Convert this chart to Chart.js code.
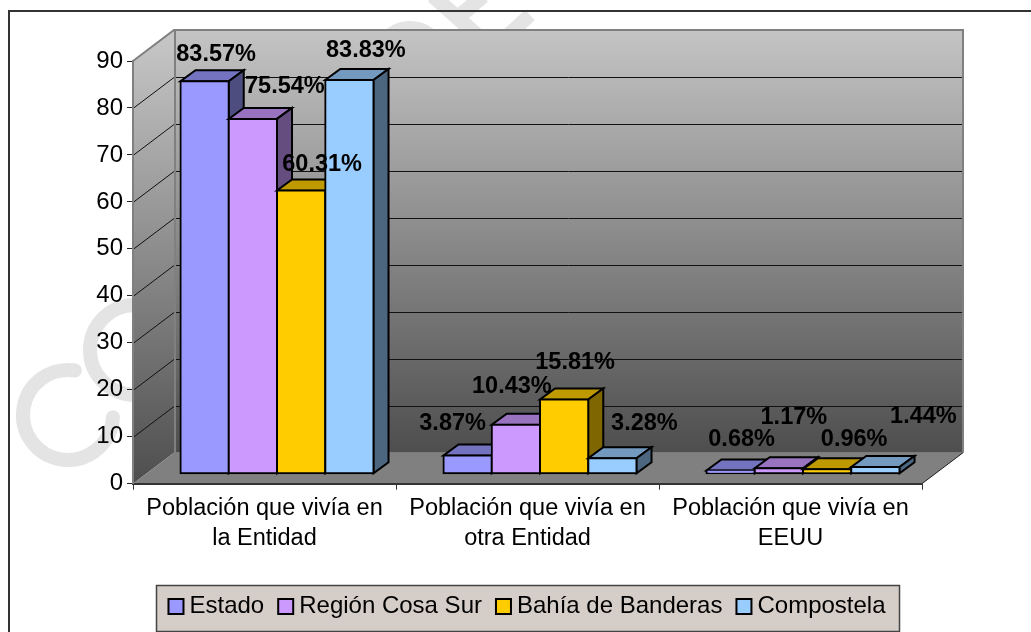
<!DOCTYPE html>
<html>
<head>
<meta charset="utf-8">
<style>html,body{margin:0;padding:0;background:#fff}canvas{display:block}</style>
<script src="https://cdn.jsdelivr.net/npm/chart.js@4"></script>
</head>
<body>
<div style="width:1031px;height:632px"><canvas id="c" width="1031" height="632"></canvas></div>
<script>
const categories = [['Población que vivía en','la Entidad'],['Población que vivía en','otra Entidad'],['Población que vivía en','EEUU']];
const estado = [83.57, 3.87, 0.68];
const regionCosaSur = [75.54, 10.43, 1.17];
const bahiaDeBanderas = [60.31, 15.81, 0.96];
const compostela = [83.83, 3.28, 1.44];
const seriesNames = ['Estado','Región Cosa Sur','Bahía de Banderas','Compostela'];
const seriesColors = ['#9999FF','#CC99FF','#FFCC00','#99CCFF'];
const topColors = ['#7373BF','#9973BF','#BF9900','#7399BF'];
const sideColors = ['#4D4D80','#664D80','#806600','#4D6680'];
// label offsets from each bar's top-centre: [series][category] = [dx, dy]
const labelOffsets = [
  [[11.5,-27],[-15,-33],[11,-31]],
  [[32,-33],[-4,-39],[15,-51]],
  [[21,-26],[11,-37],[27,-30]],
  [[16.5,-30],[32,-35],[48,-51]]
];
const FONT = '"Liberation Sans", Arial, sans-serif';
const FS = 23.5;
const WALL = {dx:41, dy:31}, PLANE = {dx:12.5, dy:10}, BAR = {dx:15, dy:11};

function poly(ctx, pts, fill, stroke, lw){
  ctx.beginPath();
  pts.forEach((p,i)=> i?ctx.lineTo(p[0],p[1]):ctx.moveTo(p[0],p[1]));
  ctx.closePath();
  if(fill){ctx.fillStyle=fill;ctx.fill();}
  if(stroke){ctx.strokeStyle=stroke;ctx.lineWidth=lw||1;ctx.stroke();}
}
function band(ctx,pts,w,fill){ // watermark stroke
  ctx.save();ctx.strokeStyle=fill;ctx.lineWidth=w;ctx.lineCap='butt';ctx.beginPath();
  pts.forEach((p,i)=> i?ctx.lineTo(p[0],p[1]):ctx.moveTo(p[0],p[1]));ctx.stroke();ctx.restore();
}
const scene = {
  id:'scene',
  afterLayout(chart){
    const l = chart.legend, w = l.right-l.left, h = l.bottom-l.top;
    const cx = 527, top = 580;
    l.left = cx-w/2; l.right = cx+w/2; l.top = top; l.bottom = top+h;
  },
  beforeDraw(chart){
    const ctx = chart.ctx, W = chart.width, H = chart.height;
    const xs = chart.scales.x, ys = chart.scales.y;
    const L = xs.left, R = xs.right, T = ys.top, B = ys.bottom;
    ctx.save();
    ctx.fillStyle='#fff';ctx.fillRect(0,0,W,H);
    // watermark
    const wm='#e4e4e4';
    ctx.save();ctx.strokeStyle=wm;ctx.lineCap='round';ctx.lineWidth=14;
    ctx.beginPath();ctx.arc(68,415,45,-1.42,0.05,true);ctx.stroke();
    ctx.lineCap='butt';
    ctx.beginPath();ctx.arc(135,350,45,Math.PI*0.5,Math.PI*1.5);ctx.stroke();
    ctx.lineWidth=12;ctx.beginPath();ctx.arc(410,60,33,Math.PI*1.3,Math.PI*1.7);ctx.stroke();
    ctx.restore();
    band(ctx,[[433,-4],[478,36]],15,wm);
    band(ctx,[[483,-4],[455,20]],15,wm);
    band(ctx,[[530,15],[505,38]],14,wm);
    // outer frame (top and left edges are in frame)
    ctx.strokeStyle='#333';ctx.lineWidth=2;
    ctx.beginPath();ctx.moveTo(1031,11);ctx.lineTo(9,11);ctx.lineTo(9,632);ctx.stroke();
    // legend panel
    ctx.fillStyle='#D5CDC7';ctx.strokeStyle='#444';ctx.lineWidth=1.5;
    ctx.fillRect(156.5,585.5,743,46);ctx.strokeRect(156.5,585.5,743,46);
    // walls
    const g = ctx.createLinearGradient(0,T-WALL.dy,0,B-WALL.dy);
    g.addColorStop(0,'#C4C4C4');g.addColorStop(1,'#4E4E4E');
    poly(ctx,[[L+WALL.dx,T-WALL.dy],[R+WALL.dx,T-WALL.dy],[R+WALL.dx,B-WALL.dy],[L+WALL.dx,B-WALL.dy]],g);
    const g2 = ctx.createLinearGradient(0,T-WALL.dy,0,B);
    g2.addColorStop(0,'#C8C8C8');g2.addColorStop(1,'#4E4E4E');
    poly(ctx,[[L,T],[L+WALL.dx,T-WALL.dy],[L+WALL.dx,B-WALL.dy],[L,B]],g2);
    poly(ctx,[[L,B],[R,B],[R+WALL.dx,B-WALL.dy],[L+WALL.dx,B-WALL.dy]],'#808080');
    // gridlines on both walls
    ctx.strokeStyle='#111';ctx.lineWidth=1;
    ys.ticks.forEach((t,i)=>{
      if(t.value===0||t.value===90) return;
      const y = Math.round(ys.getPixelForTick(i))+.5;
      ctx.beginPath();ctx.moveTo(L,y);ctx.lineTo(L+WALL.dx,y-WALL.dy);ctx.lineTo(R+WALL.dx,y-WALL.dy);ctx.stroke();
    });
    // wall edges
    ctx.strokeStyle='#808080';ctx.lineWidth=2;
    ctx.beginPath();ctx.moveTo(L,T);ctx.lineTo(L+WALL.dx,T-WALL.dy);ctx.lineTo(R+WALL.dx,T-WALL.dy);ctx.lineTo(R+WALL.dx,B-WALL.dy);ctx.stroke();
    ctx.beginPath();ctx.moveTo(L+WALL.dx+1,T-WALL.dy);ctx.lineTo(L+WALL.dx+1,B-WALL.dy);ctx.stroke();
    ctx.beginPath();ctx.moveTo(R+WALL.dx,B-WALL.dy);ctx.lineTo(R,B);ctx.strokeStyle='#222';ctx.lineWidth=1;ctx.stroke();
    ctx.restore();
  },
  beforeDatasetsDraw(chart){
    const ctx = chart.ctx;
    const metas = chart.data.datasets.map((d,i)=>chart.getDatasetMeta(i));
    ctx.save();
    ctx.translate(PLANE.dx,-PLANE.dy);
    ctx.lineJoin='miter';
    categories.forEach((c,ci)=>{
      metas.forEach((m,si)=>{
        const b = m.data[ci], x0=b.x-b.width/2, x1=b.x+b.width/2, y=b.y, base=b.base;
        poly(ctx,[[x0,y],[x1,y],[x1+BAR.dx,y-BAR.dy],[x0+BAR.dx,y-BAR.dy]],topColors[si],'#000',2);
        poly(ctx,[[x1,y],[x1+BAR.dx,y-BAR.dy],[x1+BAR.dx,base-BAR.dy],[x1,base]],sideColors[si],'#000',2);
        b.draw(ctx);
      });
    });
    // labels
    ctx.font='bold '+FS+'px '+FONT;ctx.fillStyle='#000';ctx.textAlign='center';ctx.textBaseline='middle';
    metas.forEach((m,si)=>{
      m.data.forEach((b,ci)=>{
        const v = chart.data.datasets[si].data[ci], o = labelOffsets[si][ci];
        ctx.fillText(v.toFixed(2)+'%',b.x+o[0],b.y+o[1]+.5);
      });
    });
    ctx.restore();
    return false;
  },
  afterDraw(chart){
    // legend swatches: sized to the reference, placed at the legend's own item boxes
    const ctx = chart.ctx;
    ctx.save();
    chart.legend.legendHitBoxes.forEach((h,i)=>{
      ctx.fillStyle=seriesColors[i];ctx.strokeStyle='#000';ctx.lineWidth=2;
      ctx.fillRect(h.left,h.top+h.height/2-7,15,15);
      ctx.strokeRect(h.left,h.top+h.height/2-7,15,15);
    });
    ctx.restore();
  }
};
const makeSet = (label,data,i)=>({label,data,backgroundColor:seriesColors[i],borderColor:'#000',borderWidth:2,borderSkipped:false,inflateAmount:1});
new Chart(document.getElementById('c'),{
  type:'bar',
  data:{labels:categories,datasets:[
    makeSet(seriesNames[0],estado,0),makeSet(seriesNames[1],regionCosaSur,1),
    makeSet(seriesNames[2],bahiaDeBanderas,2),makeSet(seriesNames[3],compostela,3)]},
  plugins:[scene],
  options:{
    responsive:false,animation:false,
    categoryPercentage:0.734,barPercentage:1,
    layout:{padding:{left:0,right:109,top:61,bottom:25.3}},
    plugins:{
      tooltip:{enabled:false},
      legend:{position:'bottom',labels:{color:'#000',font:{family:FONT,size:24},boxWidth:9,boxHeight:9,padding:14,
        generateLabels:(chart)=>Chart.defaults.plugins.legend.labels.generateLabels(chart).map(it=>({...it,fillStyle:'rgba(0,0,0,0)',strokeStyle:'rgba(0,0,0,0)',lineWidth:0}))}}
    },
    scales:{
      x:{
        afterFit(s){s.height=75;},
        grid:{drawOnChartArea:false,tickLength:6,color:'#333',lineWidth:1},
        border:{color:'#333',width:2},
        ticks:{color:'#000',font:{family:FONT,size:FS,lineHeight:1.26},padding:4,maxRotation:0,autoSkip:false}
      },
      y:{
        min:0,max:90,
        afterFit(s){s.width=133;},
        grid:{drawOnChartArea:false,tickLength:6,color:'#222',lineWidth:1},
        border:{color:'#808080',width:2},
        ticks:{stepSize:10,color:'#000',font:{family:FONT,size:24},padding:4}
      }
    }
  }
});
</script>
</body>
</html>
